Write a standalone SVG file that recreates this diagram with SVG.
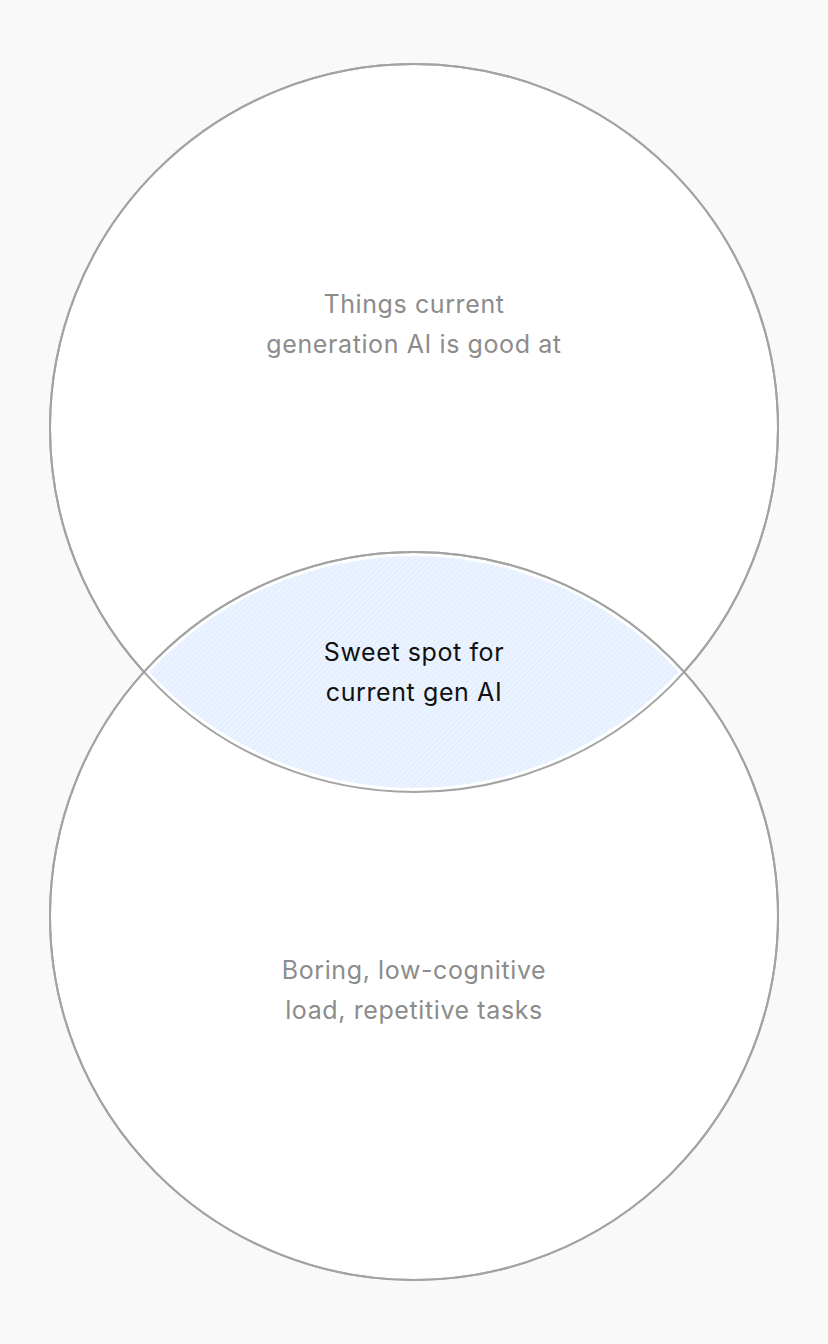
<svg xmlns="http://www.w3.org/2000/svg" width="828" height="1344" viewBox="0 0 828 1344">
<style>
.c{fill:#fff;stroke:#a3a3a3;stroke-width:2}
.o{fill:none;stroke:#a3a3a3;stroke-width:2}
.t{font-family:Inter,"Liberation Sans",sans-serif;font-size:25px;letter-spacing:0.6px;text-anchor:middle;fill:#8c8c8c}
.k{fill:#111}
</style>
<defs>
<pattern id="h" width="4" height="4" patternUnits="userSpaceOnUse" patternTransform="rotate(45)">
<rect width="4" height="4" fill="#eaf3ff"/>
<line x1="0" y1="0" x2="0" y2="4" stroke="#d6e6fb" stroke-width="1"/>
</pattern>
</defs>
<rect width="828" height="1344" fill="#f9f9f9"/>
<g id="top"><circle class="c" cx="414" cy="428" r="364"/></g>
<g id="bottom"><circle class="c" cx="414" cy="916" r="364"/></g>
<g id="lens">
<path d="M149.3 672 A360 360 0 0 1 678.7 672 A360 360 0 0 1 149.3 672 Z" fill="url(#h)"/>
<circle class="o" cx="414" cy="428" r="364"/>
<circle class="o" cx="414" cy="916" r="364"/>
</g>
<g id="labels">
<text class="t" x="414" y="313">Things current</text>
<text class="t" x="414" y="353">generation AI is good at</text>
<text class="t k" x="414" y="661">Sweet spot for</text>
<text class="t k" x="414" y="701">current gen AI</text>
<text class="t" x="414" y="979">Boring, low-cognitive</text>
<text class="t" x="414" y="1019">load, repetitive tasks</text>
</g>
</svg>
